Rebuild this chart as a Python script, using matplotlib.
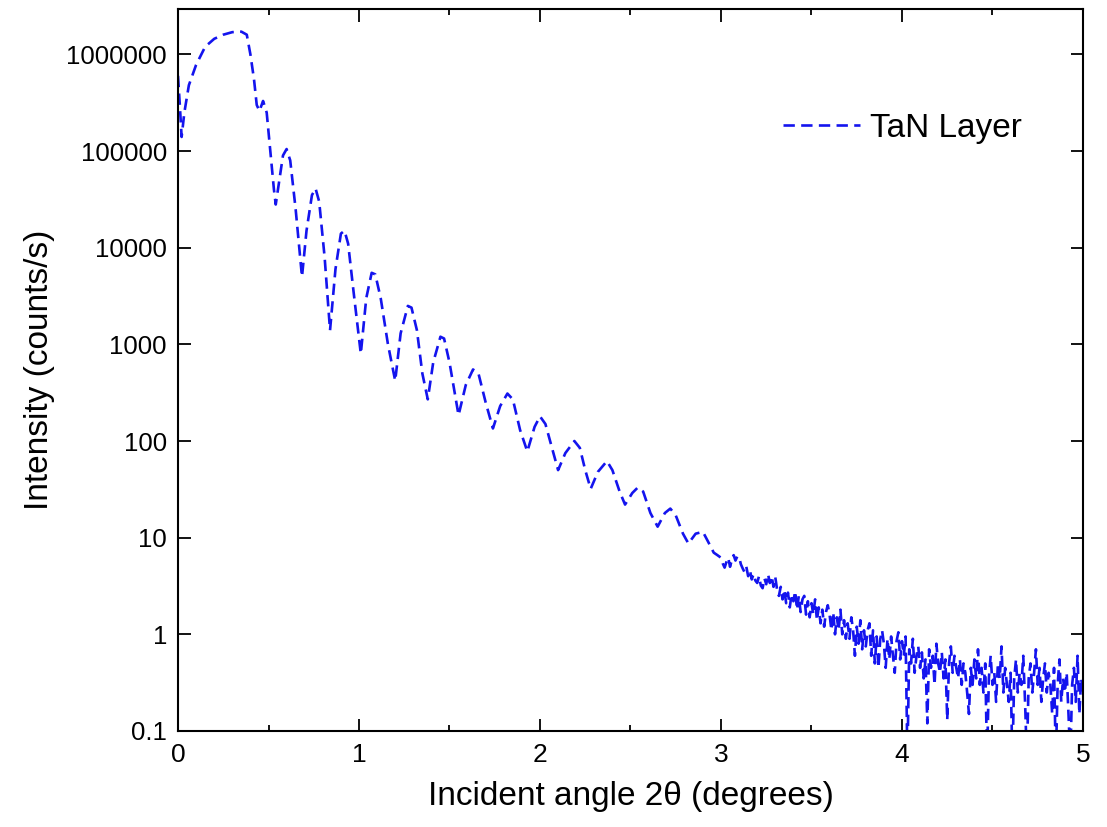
import matplotlib.pyplot as plt

# incident angle 2theta (degrees) and intensity (counts/s)
# fringe region, 0 - 3 degrees
angle_fringes = [0.00, 0.01, 0.02, 0.035, 0.06, 0.10, 0.15, 0.20, 0.25, 0.30, 0.35, 0.38, 0.40,
                 0.42, 0.435, 0.45, 0.47, 0.49, 0.51, 0.53, 0.54, 0.56, 0.58, 0.60, 0.62, 0.65,
                 0.685, 0.71, 0.74, 0.76, 0.78, 0.81, 0.84, 0.87, 0.90, 0.92, 0.94, 0.97, 1.01,
                 1.04, 1.07, 1.09, 1.12, 1.16, 1.20, 1.23, 1.27, 1.29, 1.32, 1.35, 1.38, 1.41,
                 1.45, 1.47, 1.50, 1.55, 1.59, 1.63, 1.66, 1.70, 1.74, 1.78, 1.82, 1.85, 1.89,
                 1.93, 1.97, 2.00, 2.03, 2.07, 2.10, 2.14, 2.19, 2.22, 2.25, 2.28, 2.32, 2.37,
                 2.40, 2.44, 2.47, 2.51, 2.54, 2.57, 2.61, 2.65, 2.69, 2.72, 2.75, 2.79, 2.82,
                 2.86, 2.90, 2.93, 2.96, 2.98]
intensity_fringes = [6.0e5, 3.0e5, 1.4e5, 2.5e5, 4.8e5, 7.8e5, 1.2e6, 1.45e6, 1.6e6, 1.7e6, 1.72e6,
                     1.6e6, 1.0e6, 5.5e5, 3.0e5, 2.6e5, 3.3e5, 2.5e5, 1.0e5, 4.0e4, 2.8e4, 5.0e4,
                     9.0e4, 1.05e5, 8.0e4, 2.5e4, 5.0e3, 1.5e4, 3.5e4, 4.1e4, 3.0e4, 8.0e3, 1.4e3,
                     6.0e3, 1.4e4, 1.5e4, 1.1e4, 3.5e3, 8.0e2, 3.0e3, 5.5e3, 5.3e3, 3.0e3, 1.0e3,
                     4.2e2, 1.3e3, 2.5e3, 2.4e3, 1.4e3, 5.0e2, 2.7e2, 6.5e2, 1.2e3, 1.15e3, 6.5e2,
                     1.85e2, 3.8e2, 5.5e2, 5.0e2, 2.5e2, 1.35e2, 2.3e2, 3.1e2, 2.7e2, 1.3e2, 78,
                     140, 180, 150, 80, 50, 75, 100, 85, 50, 32, 48, 62, 50, 30, 22, 29, 33, 30,
                     18, 13, 18, 20, 17, 11, 8.7, 11, 11.5, 9.0, 7.0, 6.6]
# noisy tail, 3 - 5 degrees
angle_tail = [3.00, 3.01, 3.02, 3.03, 3.04, 3.05, 3.06, 3.07, 3.08, 3.09,
              3.10, 3.11, 3.12, 3.13, 3.14, 3.15, 3.16, 3.17, 3.18, 3.19,
              3.20, 3.21, 3.22, 3.23, 3.24, 3.25, 3.26, 3.27, 3.28, 3.29,
              3.30, 3.31, 3.32, 3.33, 3.34, 3.35, 3.36, 3.37, 3.38, 3.39,
              3.40, 3.41, 3.42, 3.43, 3.44, 3.45, 3.46, 3.47, 3.48, 3.49,
              3.50, 3.51, 3.52, 3.53, 3.54, 3.55, 3.56, 3.57, 3.58, 3.59,
              3.60, 3.61, 3.62, 3.63, 3.64, 3.65, 3.66, 3.67, 3.68, 3.69,
              3.70, 3.71, 3.72, 3.73, 3.74, 3.75, 3.76, 3.77, 3.78, 3.79,
              3.80, 3.81, 3.82, 3.83, 3.84, 3.85, 3.86, 3.87, 3.88, 3.89,
              3.90, 3.91, 3.92, 3.93, 3.94, 3.95, 3.96, 3.97, 3.98, 3.99,
              4.00, 4.01, 4.02, 4.03, 4.04, 4.05, 4.06, 4.07, 4.08, 4.09,
              4.10, 4.11, 4.12, 4.13, 4.14, 4.15, 4.16, 4.17, 4.18, 4.19,
              4.20, 4.21, 4.22, 4.23, 4.24, 4.25, 4.26, 4.27, 4.28, 4.29,
              4.30, 4.31, 4.32, 4.33, 4.34, 4.35, 4.36, 4.37, 4.38, 4.39,
              4.40, 4.41, 4.42, 4.43, 4.44, 4.45, 4.46, 4.47, 4.48, 4.49,
              4.50, 4.51, 4.52, 4.53, 4.54, 4.55, 4.56, 4.57, 4.58, 4.59,
              4.60, 4.61, 4.62, 4.63, 4.64, 4.65, 4.66, 4.67, 4.68, 4.69,
              4.70, 4.71, 4.72, 4.73, 4.74, 4.75, 4.76, 4.77, 4.78, 4.79,
              4.80, 4.81, 4.82, 4.83, 4.84, 4.85, 4.86, 4.87, 4.88, 4.89,
              4.90, 4.91, 4.92, 4.93, 4.94, 4.95, 4.96, 4.97, 4.98, 4.99,
              5.00]
intensity_tail = [6.2, 5.4, 4.9, 5.6, 6.2, 5.0, 5.9, 6.6, 5.8, 6.4,
                  6.3, 5.3, 4.8, 4.4, 5.0, 4.0, 4.6, 3.7, 4.2, 3.6,
                  3.4, 4.0, 3.2, 3.0, 3.8, 3.3, 4.2, 3.4, 4.0, 3.1,
                  3.9, 2.9, 2.5, 3.1, 2.3, 2.9, 2.1, 2.7, 1.9, 2.6,
                  2.2, 2.8, 1.8, 2.5, 1.7, 2.3, 2.5, 1.6, 2.2, 1.5,
                  2.1, 1.6, 2.3, 1.4, 1.9, 1.3, 1.8, 1.2, 1.7, 2.0,
                  1.6, 1.1, 1.7, 1.0, 1.5, 1.1, 1.8, 1.0, 1.4, 0.9,
                  1.3, 0.9, 1.5, 1.1, 0.6, 1.2, 0.8, 1.4, 0.7, 1.1,
                  0.75, 1.1, 1.3, 0.6, 1.1, 0.5, 0.95, 0.45, 0.9, 1.1,
                  0.8, 0.45, 0.9, 0.55, 0.95, 0.6, 0.4, 0.85, 1.05, 0.55,
                  0.85, 0.6, 0.95, 0.05, 0.7, 0.5, 0.9, 0.4, 0.6, 0.75,
                  0.45, 0.65, 0.35, 0.55, 0.12, 0.7, 0.45, 0.6, 0.3, 0.8,
                  0.5, 0.4, 0.65, 0.35, 0.55, 0.13, 0.5, 0.75, 0.4, 0.6,
                  0.45, 0.35, 0.55, 0.3, 0.5, 0.4, 0.25, 0.15, 0.45, 0.3,
                  0.55, 0.35, 0.7, 0.3, 0.45, 0.25, 0.5, 0.05, 0.35, 0.6,
                  0.3, 0.4, 0.2, 0.5, 0.35, 0.75, 0.25, 0.45, 0.3, 0.2,
                  0.4, 0.05, 0.35, 0.55, 0.25, 0.4, 0.3, 0.6, 0.2, 0.05,
                  0.35, 0.5, 0.25, 0.4, 0.7, 0.3, 0.45, 0.2, 0.35, 0.5,
                  0.25, 0.4, 0.3, 0.15, 0.45, 0.05, 0.3, 0.55, 0.2, 0.35,
                  0.25, 0.4, 0.15, 0.05, 0.3, 0.45, 0.2, 0.6, 0.15, 0.35,
                  0.25]
y_ticks = [0.1, 1, 10, 100, 1000, 10000, 100000, 1000000]
y_tick_labels = ['0.1', '1', '10', '100', '1000', '10000', '100000', '1000000']
x_ticks = [0, 1, 2, 3, 4, 5]
x_minor_ticks = [0.5, 1.5, 2.5, 3.5, 4.5]

plt.rcParams['font.family'] = ['Liberation Sans', 'DejaVu Sans']

fig = plt.figure(figsize=(11.07, 8.27), dpi=100)
ax = fig.add_axes([0.1608, 0.1161, 0.8175, 0.873])

ax.plot(angle_fringes + angle_tail, intensity_fringes + intensity_tail,
        color='#1414ee', linewidth=1.9, dashes=(4.3, 2.4), label='TaN Layer')

ax.set_yscale('log')
ax.set_xlim(0, 5)
ax.set_ylim(0.1, 2.95e6)
ax.set_yticks(y_ticks)
ax.set_yticklabels(y_tick_labels)
ax.yaxis.set_minor_locator(plt.NullLocator())
ax.set_xticks(x_ticks)
ax.set_xticks(x_minor_ticks, minor=True)

ax.tick_params(which='both', direction='in', top=True, right=True, width=1.3)
ax.tick_params(which='major', length=9, pad=8)
ax.tick_params(axis='y', labelsize=18.5)
ax.tick_params(axis='x', labelsize=19, pad=9)
ax.tick_params(which='minor', length=4.5)
for s in ax.spines.values():
    s.set_linewidth(1.5)

ax.set_xlabel('Incident angle 2θ (degrees)', fontsize=24, labelpad=10)
ax.set_ylabel('Intensity (counts/s)', fontsize=24, labelpad=8)

ax.legend(loc='center left', bbox_to_anchor=(0.654, 0.835), frameon=False, fontsize=24,
          handlelength=2.3, handletextpad=0.3, borderaxespad=0)

fig.savefig('out.png', dpi=100)
